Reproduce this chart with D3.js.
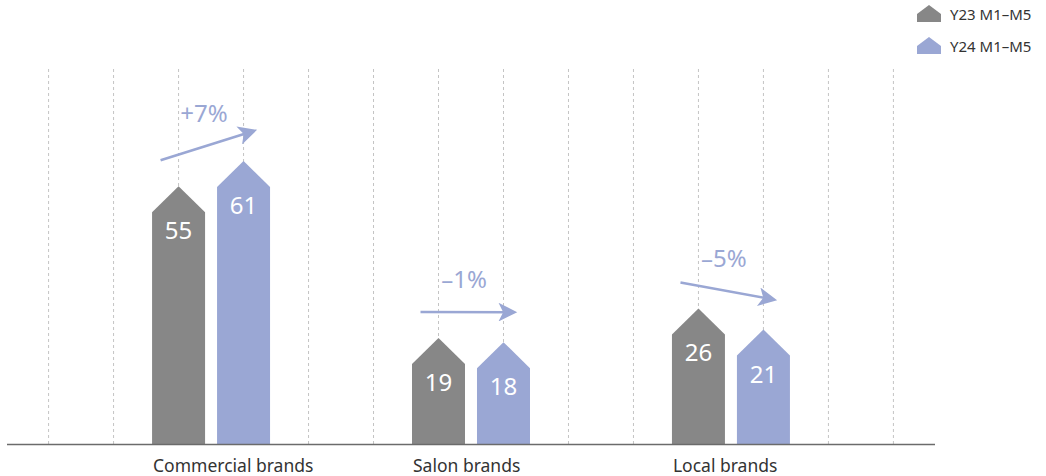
<!DOCTYPE html>
<html>
<head>
<meta charset="utf-8">
<script src="https://cdn.jsdelivr.net/npm/d3@7"></script>
<style>
  html, body { margin: 0; padding: 0; background: #fff; }
  svg { display: block; font-family: "Noto Sans", "Open Sans", sans-serif; }
</style>
</head>
<body>
<svg id="chart" width="1046" height="476"></svg>
<script>
// Brand segments and their values for the two periods
const categories = ["Commercial brands", "Salon brands", "Local brands"];
const seriesNames = ["Y23 M1–M5", "Y24 M1–M5"];
const y23 = [55, 19, 26];
const y24 = [61, 18, 21];
const changeLabels = ["+7%", "–1%", "–5%"];

const colors = ["#878787", "#9aa7d4"];
const textColor = "#333333";

const baseY = 444, gridTop = 69;
const barW = 53, tipH = 26;

const svg = d3.select("#chart");

// 14 evenly spaced slots; each category uses two of them (slot 4c+2, 4c+3)
const slots = d3.range(14);
const x = d3.scalePoint().domain(slots).range([7, 935]).padding(0.64);
const y = d3.scaleLinear().domain([0, 89]).range([baseY, gridTop]);

// dashed vertical grid
svg.append("g").selectAll("line").data(slots).join("line")
  .attr("x1", d => x(d)).attr("x2", d => x(d))
  .attr("y1", gridTop).attr("y2", baseY)
  .attr("stroke", "#c4c4c4").attr("stroke-width", 1)
  .attr("stroke-dasharray", "3,3");

// bars as pentagons: rectangle body with a pointed top
function pentagon(cx, v) {
  const top = y(v), l = cx - barW / 2, r = cx + barW / 2;
  return `M${l},${baseY}V${top}L${cx},${top - tipH}L${r},${top}V${baseY}Z`;
}

const rows = categories.map((c, i) => ({
  cat: c, i, vals: [y23[i], y24[i]], change: changeLabels[i]
}));

const barsG = svg.append("g");
rows.forEach(r => {
  r.vals.forEach((v, s) => {
    const cx = x(r.i * 4 + 2 + s);
    barsG.append("path").attr("d", pentagon(cx, v)).attr("fill", colors[s]);
    barsG.append("text")
      .attr("x", cx).attr("y", y(v) + 27)
      .attr("text-anchor", "middle")
      .attr("fill", "#fff").attr("font-size", 24)
      .text(v);
  });
});

// baseline
svg.append("line")
  .attr("x1", x.range()[0]).attr("x2", x.range()[1])
  .attr("y1", baseY + 0.5).attr("y2", baseY + 0.5)
  .attr("stroke", "#6b6b6b").attr("stroke-width", 1.5);

// category labels
svg.append("g").selectAll("text").data(rows).join("text")
  .attr("x", d => x(d.i * 4 + 2) - barW / 2 + 1)
  .attr("y", 472)
  .attr("fill", textColor).attr("font-size", 17.5)
  .text(d => d.cat);

// change arrows between the two bars of each category
const defs = svg.append("defs");
defs.append("marker")
  .attr("id", "arrowHead")
  .attr("viewBox", "0 0 10 10")
  .attr("refX", 8).attr("refY", 5)
  .attr("markerWidth", 8.5).attr("markerHeight", 7.5)
  .attr("markerUnits", "strokeWidth")
  .attr("orient", "auto")
  .append("path").attr("d", "M0,0L10,5L0,10L2.5,5Z").attr("fill", colors[1]);

const arrowsG = svg.append("g");
rows.forEach(r => {
  const x0 = x(r.i * 4 + 2) - 18, y0 = y(r.vals[0]) - tipH - 26;
  const x1 = x(r.i * 4 + 3) + 10, y1 = y(r.vals[1]) - tipH - 30;
  arrowsG.append("line")
    .attr("x1", x0).attr("y1", y0).attr("x2", x1).attr("y2", y1)
    .attr("stroke", colors[1]).attr("stroke-width", 2.5)
    .attr("marker-end", "url(#arrowHead)");
  arrowsG.append("text")
    .attr("x", (x0 + x1) / 2 - 3).attr("y", (y0 + y1) / 2 - 24)
    .attr("text-anchor", "middle")
    .attr("fill", colors[1]).attr("font-size", 24)
    .text(r.change);
});

// legend
const legend = svg.append("g").attr("transform", "translate(917,0)");
seriesNames.forEach((name, s) => {
  const g = legend.append("g").attr("transform", `translate(0,${s * 32})`);
  g.append("path").attr("d", "M0,22V14L12,5L24,14V22Z").attr("fill", colors[s]);
  g.append("text").attr("x", 33).attr("y", 20)
    .attr("fill", textColor).attr("font-size", 15).text(name);
});
</script>
</body>
</html>
